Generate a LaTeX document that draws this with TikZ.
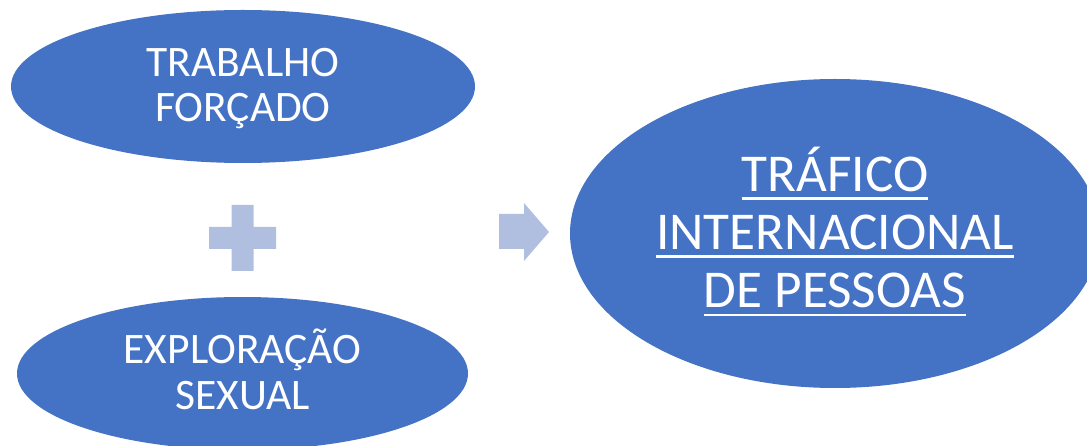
\documentclass[tikz,border=0pt]{standalone}
\usepackage{fontspec}
\setmainfont{Carlito}
\usetikzlibrary{shapes.geometric}

\definecolor{oval}{RGB}{68,114,196}
\definecolor{signs}{RGB}{176,190,223}
\newsavebox{\ulbox}
\newcommand{\ulline}[1]{\sbox{\ulbox}{#1}\rlap{\rule[-8.3pt]{\wd\ulbox}{2.7pt}}\usebox{\ulbox}}

\begin{document}
\begin{tikzpicture}[x=1pt,y=-1pt,
    smallnode/.style={ellipse,fill=oval,text=white,inner sep=0pt,
      minimum width=464pt,minimum height=153pt,align=center,
      font=\fontsize{43.5}{45.8}\selectfont,text height=72pt,text depth=1pt},
    bignode/.style={ellipse,fill=oval,text=white,inner sep=0pt,
      minimum width=530pt,minimum height=309pt,align=center,
      font=\fontsize{53.2}{58.2}\selectfont,text height=153pt,text depth=4pt},
    sign/.style={fill=signs}]

  \useasboundingbox (0,0) rectangle (1087,446);

  \begin{scope}
    \clip (0,0) rectangle (1087,446);
    \node[smallnode] (Trabalho) at (243,86.5) {TRABALHO\\FORÇADO};
    \node[smallnode, minimum width=451pt] (Exploracao) at (242.5,373.5) {EXPLORAÇÃO\\SEXUAL};
    \node[bignode] (Trafico) at (835,233.5)
      {\ulline{TRÁFICO}\\\ulline{INTERNACIONAL}\\\ulline{DE PESSOAS}};
  \end{scope}

  % plus
  \fill[sign] (231.5,205) -- (253.5,205) -- (253.5,227) -- (276,227) -- (276,249)
    -- (253.5,249) -- (253.5,271) -- (231.5,271) -- (231.5,249) -- (209,249)
    -- (209,227) -- (231.5,227) -- cycle;

  % arrow
  \fill[sign] (499,214) -- (524,214) -- (524,203) -- (549,232) -- (524,261)
    -- (524,249) -- (499,249) -- cycle;
\end{tikzpicture}
\end{document}
